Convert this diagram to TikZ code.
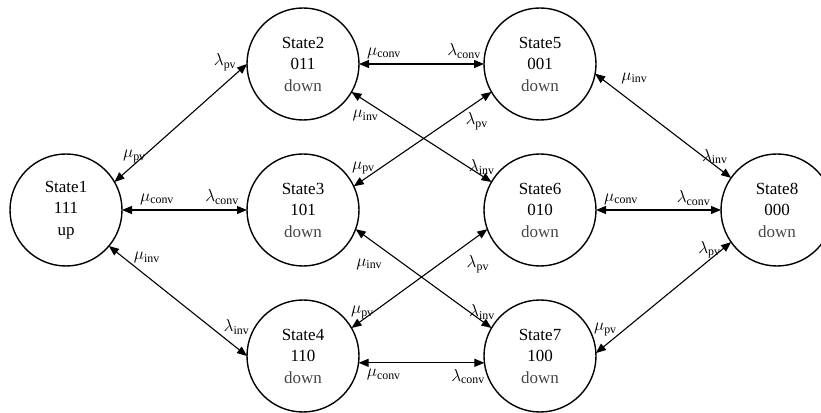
\documentclass[tikz,border=0pt]{standalone}
\usepackage{fontspec}
\setmainfont{Liberation Serif}
\usepackage{xcolor}
\definecolor{downgray}{RGB}{70,70,70}
\usepackage{tikz}
\usetikzlibrary{arrows.meta,positioning}
\tikzset{
  state/.style={draw,circle,line width=1.4pt,minimum size=112pt,inner sep=0pt,%
    outer sep=0pt,font=\fontsize{17}{21.5}\selectfont,align=center},
  flow/.style={{Triangle[length=10pt,width=8pt]}-{Triangle[length=10pt,width=8pt]},%
    line width=1.1pt},
  rate/.style={font=\fontsize{17}{20}\selectfont,inner sep=1pt},
}
\newcommand{\stdown}{\textcolor{downgray}{down}}

\begin{document}
\begin{tikzpicture}[node distance=34pt and 125pt,x=1pt,y=1pt]
\useasboundingbox (0,0) rectangle (821,412);
\node[state] (s1) at (66,202) {State1\\111\\up};
\node[state,right=of s1] (s3) {State3\\101\\\stdown};
\node[state,above=of s3] (s2) {State2\\011\\\stdown};
\node[state,below=of s3] (s4) {State4\\110\\\stdown};
\node[state,right=of s2] (s5) {State5\\001\\\stdown};
\node[state,right=of s3] (s6) {State6\\010\\\stdown};
\node[state,right=of s4] (s7) {State7\\100\\\stdown};
\node[state,right=of s6] (s8) {State8\\000\\\stdown};
% from State1
\draw[flow] (s1.30) -- node[rate,pos=0.15,above]{$\mu_{\mathrm{pv}}$}
  node[rate,pos=0.93,above left]{$\lambda_{\mathrm{pv}}$} (s2.west);
\draw[flow] (s1.east) -- node[rate,pos=0.28,above=4pt]{$\mu_{\mathrm{conv}}$}
  node[rate,pos=0.8,above=4pt]{$\lambda_{\mathrm{conv}}$} (s3.west);
\draw[flow] (s1.-40) -- node[rate,pos=0.17,above right]{$\mu_{\mathrm{inv}}$}
  node[rate,pos=0.82,above right]{$\lambda_{\mathrm{inv}}$} (s4.west);
% middle column
\draw[flow] (s2.east) -- node[rate,pos=0.2,above=4pt]{$\mu_{\mathrm{conv}}$}
  node[rate,pos=0.84,above=4pt]{$\lambda_{\mathrm{conv}}$} (s5.west);
\draw[flow] (s2.-30) -- node[rate,pos=0.1,below=8pt]{$\mu_{\mathrm{inv}}$}
  node[rate,pos=0.93,above]{$\lambda_{\mathrm{inv}}$} (s6.150);
\draw[flow] (s3.25) -- node[rate,pos=0.07,above=4pt]{$\mu_{\mathrm{pv}}$}
  node[rate,pos=0.8,below right]{$\lambda_{\mathrm{pv}}$} (s5.210);
\draw[flow] (s3.-20) -- node[rate,pos=0.1,below=18pt]{$\mu_{\mathrm{inv}}$}
  node[rate,pos=0.93,above]{$\lambda_{\mathrm{inv}}$} (s7.150);
\draw[flow] (s4.30) -- node[rate,pos=0.08,above]{$\mu_{\mathrm{pv}}$}
  node[rate,pos=0.93,below=18pt]{$\lambda_{\mathrm{pv}}$} (s6.200);
\draw[flow] (s4.-7) -- node[rate,pos=0.2,below=5pt]{$\mu_{\mathrm{conv}}$}
  node[rate,pos=0.87,below=5pt]{$\lambda_{\mathrm{conv}}$} (s7.187);
% into State8
\draw[flow] (s5.-10) -- node[rate,pos=0.15,above right=6pt]{$\mu_{\mathrm{inv}}$}
  node[rate,pos=0.88,above]{$\lambda_{\mathrm{inv}}$} (s8.145);
\draw[flow] (s6.east) -- node[rate,pos=0.2,above=4pt]{$\mu_{\mathrm{conv}}$}
  node[rate,pos=0.78,above=3pt]{$\lambda_{\mathrm{conv}}$} (s8.west);
\draw[flow] (s7.3) -- node[rate,pos=0.07,above=8pt]{$\mu_{\mathrm{pv}}$}
  node[rate,pos=0.84,above]{$\lambda_{\mathrm{pv}}$} (s8.215);
\end{tikzpicture}
\end{document}
